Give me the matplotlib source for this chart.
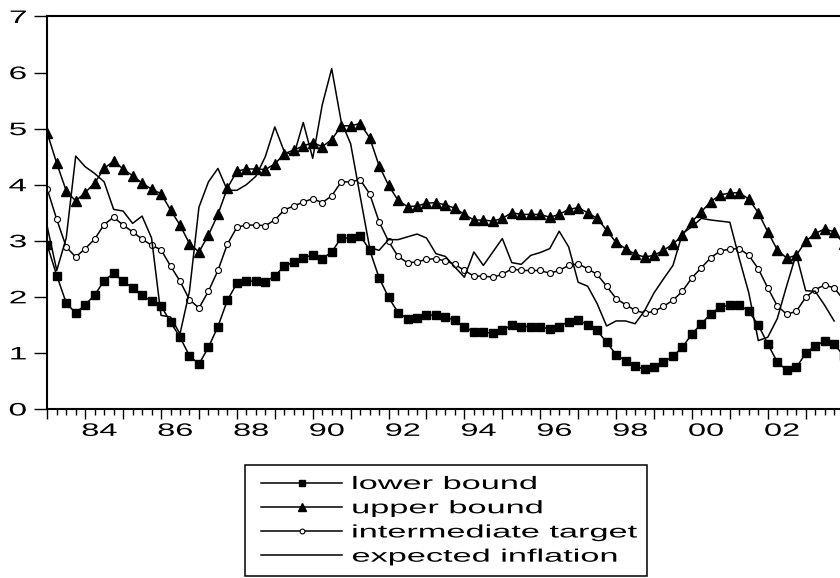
import matplotlib
matplotlib.use("Agg")
import matplotlib.pyplot as plt
import numpy as np
from matplotlib.patheffects import AbstractPathEffect
from matplotlib.transforms import Affine2D
from matplotlib.patches import Rectangle

plt.rcParams['font.family'] = ['Liberation Sans', 'DejaVu Sans']


class Widen(AbstractPathEffect):
    # draws text glyphs stretched sideways (the source graph has wide lettering)
    def __init__(self, sx, anchor='left'):
        super().__init__()
        self.sx = sx
        self.anchor = anchor

    def draw_path(self, renderer, gc, tpath, affine, rgbFace=None):
        ext = tpath.get_extents(affine)
        x0 = {'left': ext.x0, 'center': (ext.x0 + ext.x1) / 2,
              'right': ext.x1}[self.anchor]
        wide = affine + Affine2D().translate(-x0, 0).scale(self.sx, 1).translate(x0, 0)
        renderer.draw_path(gc, tpath, wide, rgbFace)


# quarterly observations, 1983Q1 onwards
start_year = 1983

lower_bound = [2.92, 2.38, 1.89, 1.71, 1.86, 2.03, 2.29, 2.42, 2.28, 2.16,
               2.03, 1.92, 1.84, 1.55, 1.28, 0.95, 0.80, 1.10, 1.47, 1.94,
               2.24, 2.28, 2.28, 2.27, 2.37, 2.55, 2.62, 2.69, 2.75, 2.68,
               2.80, 3.05, 3.05, 3.09, 2.84, 2.34, 1.99, 1.72, 1.61, 1.62,
               1.67, 1.68, 1.64, 1.58, 1.47, 1.37, 1.37, 1.35, 1.40, 1.50,
               1.47, 1.47, 1.47, 1.42, 1.47, 1.56, 1.59, 1.50, 1.40, 1.19,
               0.97, 0.86, 0.76, 0.71, 0.74, 0.83, 0.94, 1.10, 1.34, 1.52,
               1.70, 1.82, 1.85, 1.86, 1.74, 1.50, 1.16, 0.84, 0.69, 0.74,
               0.99, 1.13, 1.21, 1.16, 0.95]

upper_bound = [4.92, 4.38, 3.89, 3.71, 3.86, 4.03, 4.29, 4.42, 4.28, 4.16,
               4.03, 3.92, 3.84, 3.55, 3.28, 2.95, 2.80, 3.10, 3.47, 3.94,
               4.24, 4.28, 4.28, 4.27, 4.37, 4.55, 4.62, 4.69, 4.75, 4.68,
               4.80, 5.05, 5.05, 5.09, 4.84, 4.34, 3.99, 3.72, 3.61, 3.62,
               3.67, 3.68, 3.64, 3.58, 3.47, 3.37, 3.37, 3.35, 3.40, 3.50,
               3.47, 3.47, 3.47, 3.42, 3.47, 3.56, 3.59, 3.50, 3.40, 3.19,
               2.97, 2.86, 2.76, 2.71, 2.74, 2.83, 2.94, 3.10, 3.34, 3.52,
               3.70, 3.82, 3.85, 3.86, 3.74, 3.50, 3.16, 2.84, 2.69, 2.74,
               2.99, 3.13, 3.21, 3.16, 2.95]

intermediate_target = [3.92, 3.38, 2.89, 2.71, 2.86, 3.03, 3.29, 3.42, 3.28, 3.16,
                       3.03, 2.92, 2.84, 2.55, 2.28, 1.95, 1.80, 2.10, 2.47, 2.94,
                       3.24, 3.28, 3.28, 3.27, 3.37, 3.55, 3.62, 3.69, 3.75, 3.68,
                       3.80, 4.05, 4.05, 4.09, 3.84, 3.34, 2.99, 2.72, 2.61, 2.62,
                       2.67, 2.68, 2.64, 2.58, 2.47, 2.37, 2.37, 2.35, 2.40, 2.50,
                       2.47, 2.47, 2.47, 2.42, 2.47, 2.56, 2.59, 2.50, 2.40, 2.19,
                       1.97, 1.86, 1.76, 1.71, 1.74, 1.83, 1.94, 2.10, 2.34, 2.52,
                       2.70, 2.82, 2.85, 2.86, 2.74, 2.50, 2.16, 1.84, 1.69, 1.74,
                       1.99, 2.13, 2.21, 2.16, 1.95]

expected_inflation = [3.25, 2.47, 3.05, 4.51, 4.32, 4.20, 4.05, 3.56, 3.53, 3.31,
                      3.44, 3.05, 1.67, 1.64, 1.34, 2.10, 3.60, 4.05, 4.29, 3.90,
                      3.90, 4.00, 4.15, 4.50, 5.03, 4.59, 4.52, 5.11, 4.47, 5.42,
                      6.07, 5.13, 4.73, 3.80, 2.88, 2.83, 3.02, 3.02, 3.07, 3.12,
                      3.05, 2.77, 2.72, 2.53, 2.35, 2.80, 2.56, 2.80, 3.04, 2.61,
                      2.58, 2.74, 2.79, 2.86, 3.17, 2.89, 2.26, 2.19, 1.88, 1.48,
                      1.57, 1.57, 1.52, 1.75, 2.07, 2.32, 2.56, 3.13, 3.25, 3.40,
                      3.37, 3.35, 3.33, 2.68, 2.07, 1.22, 1.28, 1.61, 2.20, 2.76,
                      2.11, 2.10, 1.85, 1.57]

label_years = [84, 86, 88, 90, 92, 94, 96, 98, 0, 2]

t_bounds = start_year + np.arange(len(lower_bound)) / 4.0
t_infl = start_year + np.arange(len(expected_inflation)) / 4.0

fig = plt.figure(figsize=(8.4, 5.78), dpi=100)
ax = fig.add_axes([0.0556, 0.2924, 0.9444, 0.6791])

lw = 1.1
l1, = ax.plot(t_bounds, lower_bound, color='black', lw=lw, marker='s',
              ms=5.8, mfc='black', mec='black', label='lower bound')
l2, = ax.plot(t_bounds, upper_bound, color='black', lw=lw, marker='^',
              ms=6.5, mfc='black', mec='black', label='upper bound')
l3, = ax.plot(t_bounds, intermediate_target, color='black', lw=lw, marker='o',
              ms=4.3, mfc='white', mec='black', mew=0.8,
              label='intermediate target')
l4, = ax.plot(t_infl, expected_inflation, color='black', lw=lw,
              label='expected inflation')

ax.set_xlim(start_year - 0.015, 2003.905)
ax.set_ylim(0, 7)
ax.set_yticks(range(0, 8))

ax.set_xticks(np.arange(1983, 2004))
ax.set_xticks(np.arange(1983, 2004, 0.25), minor=True)
ax.set_xticklabels([])
ax.tick_params(axis='x', which='major', direction='out', length=7, width=1)
ax.tick_params(axis='x', which='minor', direction='out', length=4, width=1)
ax.tick_params(axis='y', direction='out', length=9.5, width=1, pad=5,
               labelsize=13)
for lbl in ax.get_yticklabels():
    lbl.set_path_effects([Widen(1.85, 'right')])

for yy in label_years:
    year = 2000 + yy if yy < 50 else 1900 + yy
    ax.annotate('%02d' % yy, xy=(year + 0.375, 0),
                xycoords=('data', 'axes fraction'), xytext=(0, -10),
                textcoords='offset points', ha='center', va='top', fontsize=13,
                path_effects=[Widen(1.8, 'center')])

for side in ['left', 'top', 'bottom']:
    ax.spines[side].set_linewidth(1.5)
ax.spines['right'].set_visible(False)

# legend below the plot, boxed
leg = fig.legend(handles=[l1, l2, l3, l4], loc='upper left',
                 bbox_to_anchor=(261 / 840, 1 - 476 / 578),
                 borderaxespad=0, borderpad=0, fontsize=13, numpoints=1,
                 handlelength=4.5, handletextpad=0.55, labelspacing=0.4,
                 frameon=False, markerscale=0.8)
for txt in leg.get_texts():
    txt.set_path_effects([Widen(1.9, 'left')])
fig.add_artist(Rectangle((245 / 840, 1 - 576 / 578), 402 / 840, 111 / 578,
                         transform=fig.transFigure, fill=False,
                         edgecolor='black', linewidth=1.1))

fig.savefig('out.png', dpi=100)
